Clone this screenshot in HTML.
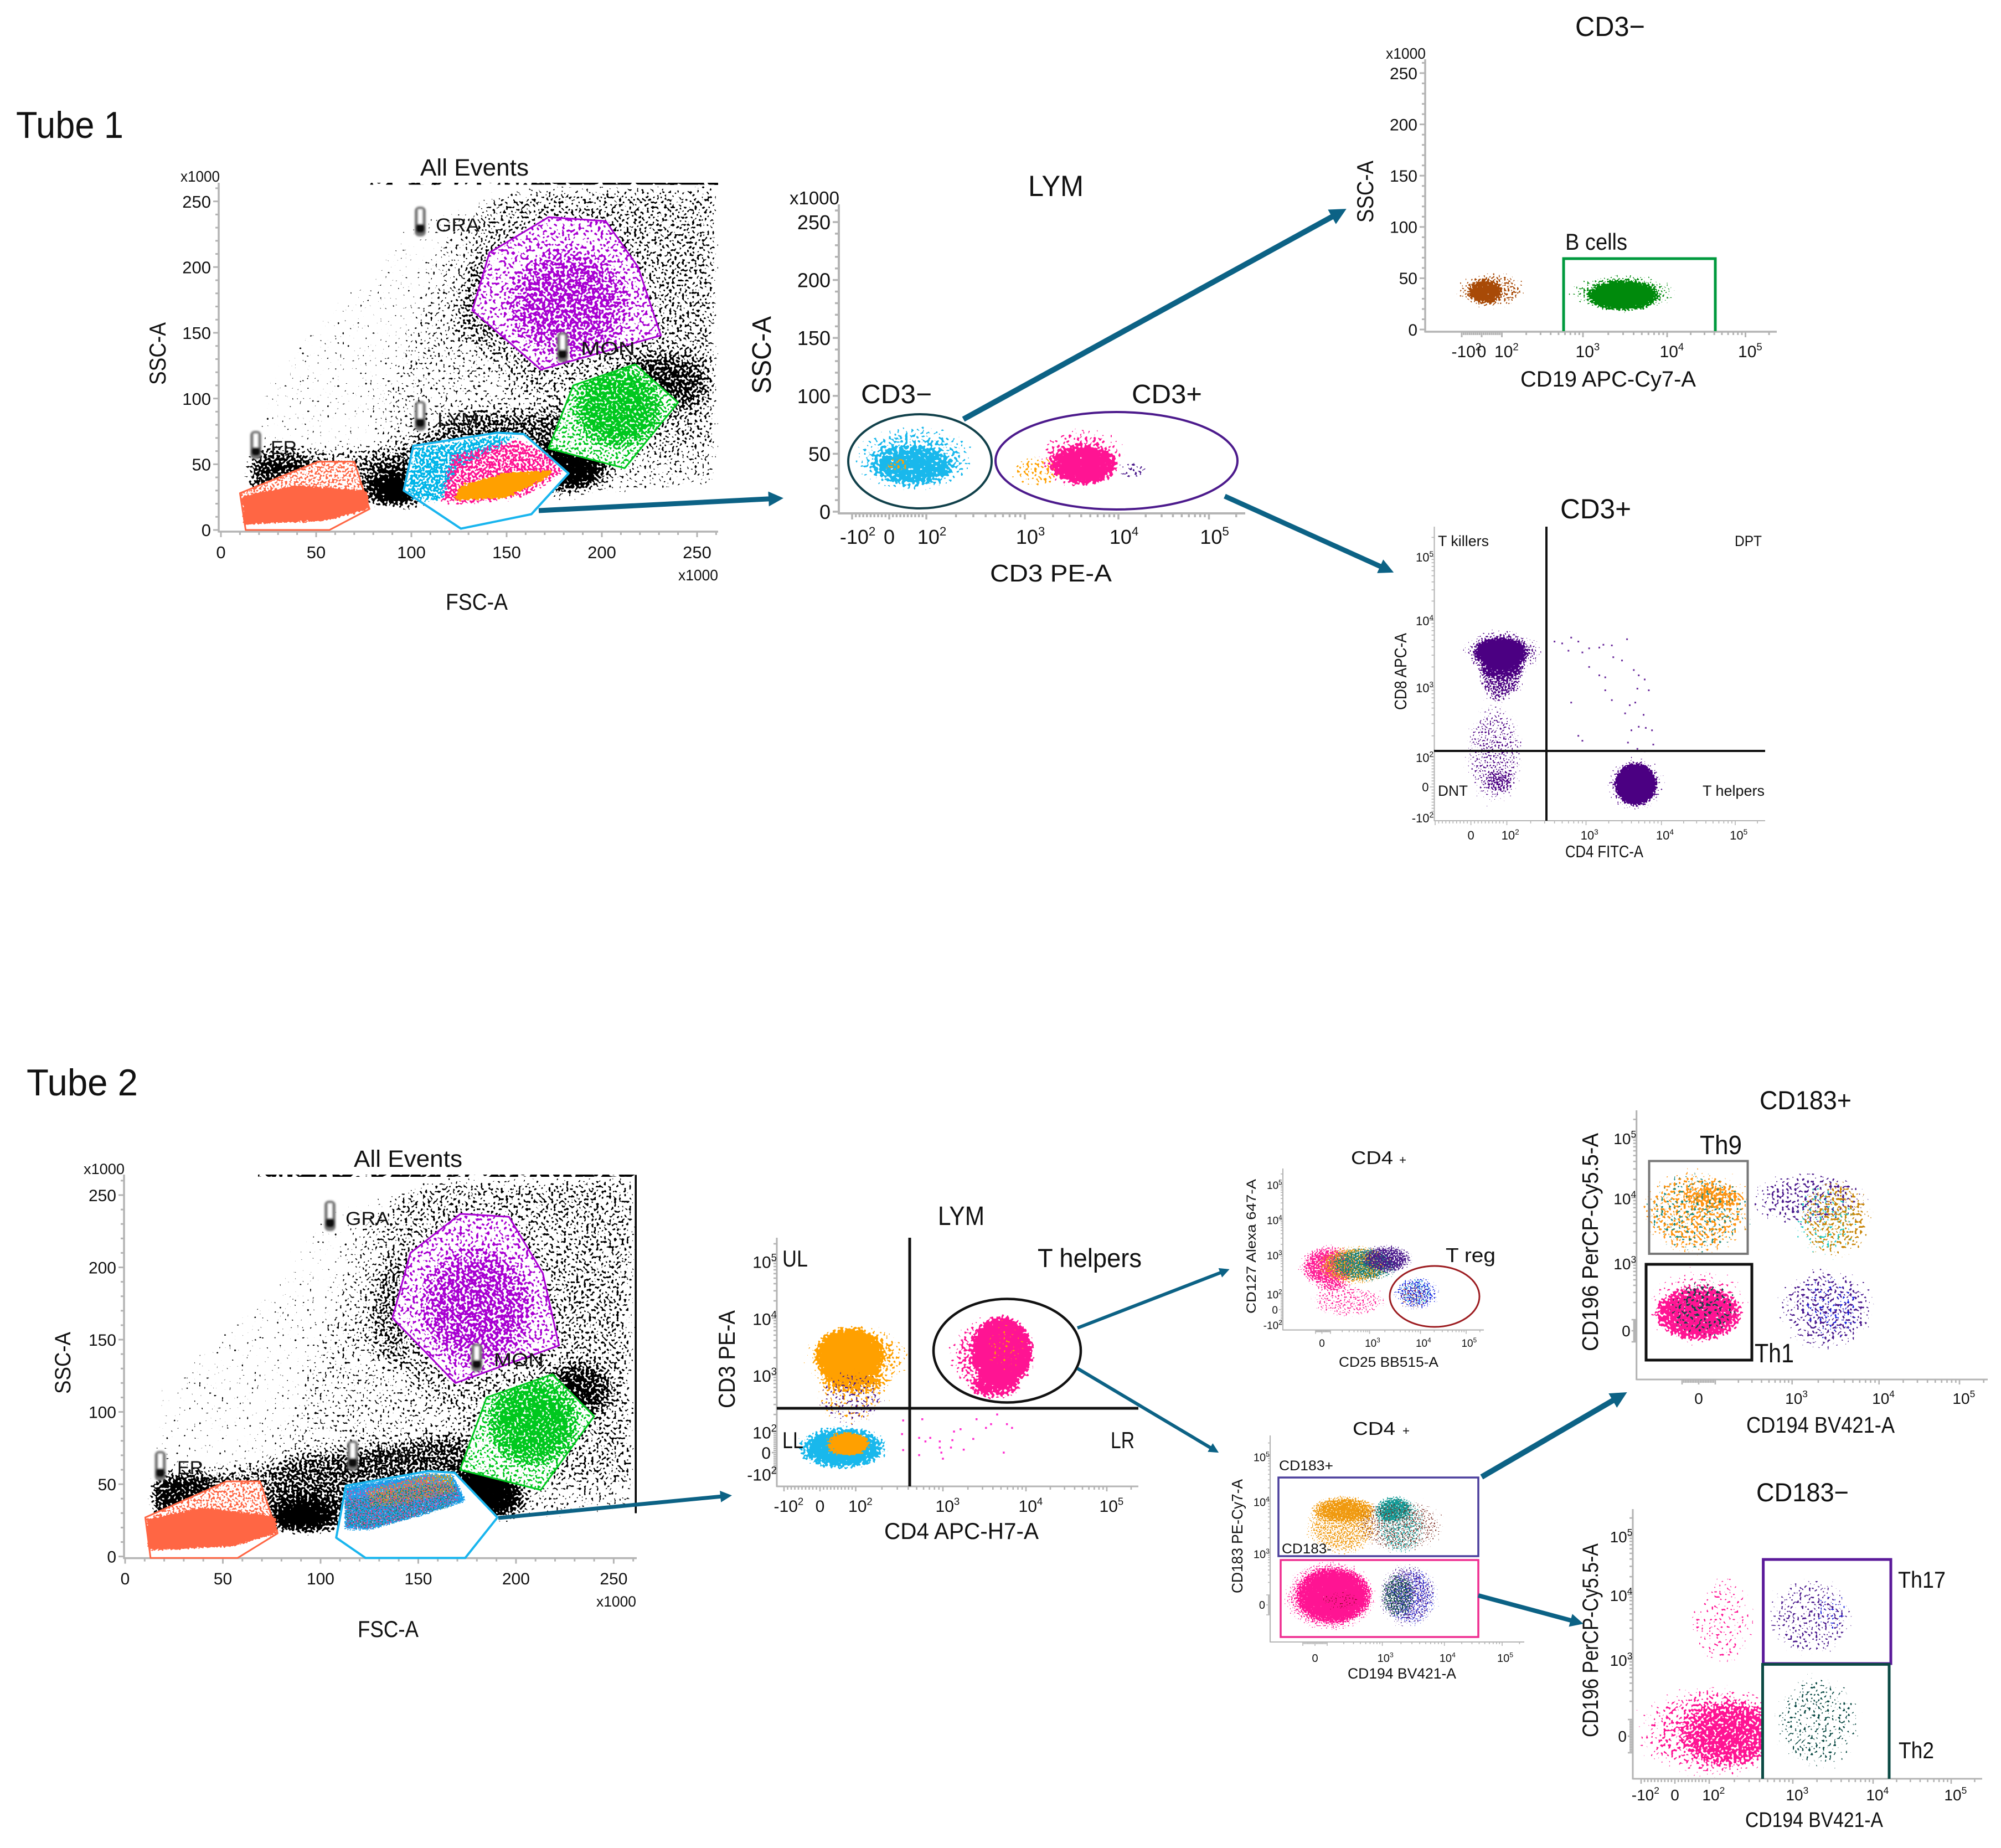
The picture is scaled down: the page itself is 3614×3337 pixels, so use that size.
<!DOCTYPE html>
<html lang="en">
<head>
<meta charset="utf-8">
<title>Flow cytometry gating strategy, Tube 1 and Tube 2</title>
<style>
html,body{margin:0;padding:0;background:#fff;}
svg{display:block;}
text{font-family:"Liberation Sans","DejaVu Sans",sans-serif;fill:#111;}
</style>
</head>
<body>
<svg xmlns="http://www.w3.org/2000/svg" width="3614" height="3337" viewBox="0 0 3614 3337">
<defs>
<radialGradient id="soft"><stop offset="0" stop-color="#000" stop-opacity="1"/><stop offset=".62" stop-color="#000" stop-opacity=".95"/><stop offset=".85" stop-color="#000" stop-opacity=".62"/><stop offset="1" stop-color="#000" stop-opacity=".3"/></radialGradient>
<marker id="head" markerWidth="3" markerHeight="3" refX="2" refY="1.5" orient="auto" markerUnits="strokeWidth"><path d="M0,0 L3,1.5 L0,3 Z" fill="#0c6285"/></marker>
<filter id="iconBlur" x="-40%" y="-40%" width="180%" height="180%"><feGaussianBlur stdDeviation="1.6"/></filter>
</defs>

<g id="marks"></g>

<!-- Tube headings -->
<text x="29" y="249" font-size="68" textLength="194" lengthAdjust="spacingAndGlyphs">Tube 1</text>
<text x="48" y="1978" font-size="68" textLength="201" lengthAdjust="spacingAndGlyphs">Tube 2</text>

<!-- Tube 1, all events -->
<text x="759" y="317" font-size="43" textLength="196" lengthAdjust="spacingAndGlyphs">All Events</text>
<text x="326" y="328" font-size="28" textLength="71" lengthAdjust="spacingAndGlyphs">x1000</text>
<text x="1225" y="1048" font-size="28" textLength="72" lengthAdjust="spacingAndGlyphs">x1000</text>
<text x="805" y="1101" font-size="42" textLength="112" lengthAdjust="spacingAndGlyphs">FSC-A</text>
<text x="299" y="695" font-size="42" textLength="113" lengthAdjust="spacingAndGlyphs" transform="rotate(-90 299 695)">SSC-A</text>
<text x="787" y="418" font-size="34" textLength="79" lengthAdjust="spacingAndGlyphs">GRA</text>
<text x="790" y="769" font-size="34" textLength="74" lengthAdjust="spacingAndGlyphs">LYM</text>
<text x="489" y="820" font-size="34" textLength="47" lengthAdjust="spacingAndGlyphs">ER</text>
<text x="1049" y="641" font-size="34" textLength="98" lengthAdjust="spacingAndGlyphs">MON</text>

<!-- Tube 1, LYM -->
<text x="1857" y="354" font-size="53" textLength="100" lengthAdjust="spacingAndGlyphs">LYM</text>
<text x="1426" y="369" font-size="33" textLength="90" lengthAdjust="spacingAndGlyphs">x1000</text>
<text x="1392" y="711" font-size="48" textLength="140" lengthAdjust="spacingAndGlyphs" transform="rotate(-90 1392 711)">SSC-A</text>
<text x="1788" y="1050" font-size="44" textLength="220" lengthAdjust="spacingAndGlyphs">CD3 PE-A</text>
<text x="1555" y="728" font-size="48" textLength="128" lengthAdjust="spacingAndGlyphs">CD3−</text>
<text x="2044" y="728" font-size="48" textLength="127" lengthAdjust="spacingAndGlyphs">CD3+</text>
<ellipse cx="1661.5" cy="833" rx="129.5" ry="85" fill="none" stroke="#10404a" stroke-width="4"/>
<ellipse cx="2016.5" cy="832" rx="218.5" ry="88" fill="none" stroke="#4c1a8c" stroke-width="4"/>

<!-- Tube 1, CD3 negative -->
<text x="2845" y="65" font-size="50" textLength="126" lengthAdjust="spacingAndGlyphs">CD3−</text>
<text x="2503" y="106" font-size="28" textLength="72" lengthAdjust="spacingAndGlyphs">x1000</text>
<text x="2480" y="402" font-size="42" textLength="112" lengthAdjust="spacingAndGlyphs" transform="rotate(-90 2480 402)">SSC-A</text>
<text x="2746" y="698" font-size="40" textLength="317" lengthAdjust="spacingAndGlyphs">CD19 APC-Cy7-A</text>
<text x="2827" y="451" font-size="42" textLength="112" lengthAdjust="spacingAndGlyphs">B cells</text>
<path d="M2824,598 V467 H3098 V598" fill="none" stroke="#009a3e" stroke-width="5"/>

<!-- Tube 1, CD3 positive -->
<text x="2818" y="936" font-size="50" textLength="128" lengthAdjust="spacingAndGlyphs">CD3+</text>
<text x="2827" y="1548" font-size="31" textLength="141" lengthAdjust="spacingAndGlyphs">CD4 FITC-A</text>
<text x="2540" y="1282" font-size="31" textLength="139" lengthAdjust="spacingAndGlyphs" transform="rotate(-90 2540 1282)">CD8 APC-A</text>
<text x="2597" y="986" font-size="27" textLength="92" lengthAdjust="spacingAndGlyphs">T killers</text>
<text x="3133" y="986" font-size="27" textLength="49" lengthAdjust="spacingAndGlyphs">DPT</text>
<text x="2597" y="1437" font-size="27" textLength="54" lengthAdjust="spacingAndGlyphs">DNT</text>
<text x="3075" y="1437" font-size="27" textLength="112" lengthAdjust="spacingAndGlyphs">T helpers</text>
<line x1="2793" y1="951" x2="2793" y2="1482" stroke="#111" stroke-width="4"/>
<line x1="2590" y1="1356" x2="3188" y2="1356" stroke="#111" stroke-width="4"/>

<!-- Tube 2, all events -->
<text x="639" y="2107" font-size="43" textLength="196" lengthAdjust="spacingAndGlyphs">All Events</text>
<text x="151" y="2120" font-size="27" textLength="74" lengthAdjust="spacingAndGlyphs">x1000</text>
<text x="1077" y="2901" font-size="27" textLength="72" lengthAdjust="spacingAndGlyphs">x1000</text>
<text x="646" y="2956" font-size="42" textLength="110" lengthAdjust="spacingAndGlyphs">FSC-A</text>
<text x="127" y="2517" font-size="40" textLength="112" lengthAdjust="spacingAndGlyphs" transform="rotate(-90 127 2517)">SSC-A</text>
<text x="624" y="2212" font-size="34" textLength="79" lengthAdjust="spacingAndGlyphs">GRA</text>
<text x="681" y="2644" font-size="34" textLength="61" lengthAdjust="spacingAndGlyphs">LYM</text>
<text x="320" y="2662" font-size="34" textLength="47" lengthAdjust="spacingAndGlyphs">ER</text>
<text x="892" y="2467" font-size="34" textLength="90" lengthAdjust="spacingAndGlyphs">MON</text>

<!-- Tube 2, LYM -->
<text x="1694" y="2212" font-size="48" textLength="84" lengthAdjust="spacingAndGlyphs">LYM</text>
<text x="1874" y="2288" font-size="47" textLength="188" lengthAdjust="spacingAndGlyphs">T helpers</text>
<text x="1413" y="2287" font-size="42" textLength="46" lengthAdjust="spacingAndGlyphs">UL</text>
<text x="1413" y="2615" font-size="42" textLength="38" lengthAdjust="spacingAndGlyphs">LL</text>
<text x="2006" y="2615" font-size="42" textLength="43" lengthAdjust="spacingAndGlyphs">LR</text>
<text x="1597" y="2779" font-size="42" textLength="279" lengthAdjust="spacingAndGlyphs">CD4 APC-H7-A</text>
<text x="1327" y="2543" font-size="42" textLength="177" lengthAdjust="spacingAndGlyphs" transform="rotate(-90 1327 2543)">CD3 PE-A</text>
<line x1="1643" y1="2235" x2="1643" y2="2684" stroke="#111" stroke-width="5"/>
<line x1="1403" y1="2543" x2="2056" y2="2543" stroke="#111" stroke-width="5"/>
<ellipse cx="1819" cy="2439" rx="133" ry="93.5" fill="none" stroke="#111" stroke-width="4.5"/>

<!-- Tube 2, CD25 panel -->
<text x="2440" y="2102" font-size="33" textLength="76" lengthAdjust="spacingAndGlyphs">CD4</text>
<text x="2527" y="2102" font-size="22" textLength="13" lengthAdjust="spacingAndGlyphs">+</text>
<text x="2611" y="2279" font-size="36" textLength="90" lengthAdjust="spacingAndGlyphs">T reg</text>
<text x="2418" y="2468" font-size="25" textLength="180" lengthAdjust="spacingAndGlyphs">CD25 BB515-A</text>
<text x="2268" y="2372" font-size="24" textLength="243" lengthAdjust="spacingAndGlyphs" transform="rotate(-90 2268 2372)">CD127 Alexa 647-A</text>
<ellipse cx="2591" cy="2341" rx="81" ry="55" fill="none" stroke="#9c1c20" stroke-width="3"/>

<!-- Tube 2, CD183 panel -->
<text x="2443" y="2591" font-size="33" textLength="77" lengthAdjust="spacingAndGlyphs">CD4</text>
<text x="2533" y="2591" font-size="22" textLength="13" lengthAdjust="spacingAndGlyphs">+</text>
<text x="2310" y="2655" font-size="25" textLength="98" lengthAdjust="spacingAndGlyphs">CD183+</text>
<text x="2315" y="2805" font-size="25" textLength="90" lengthAdjust="spacingAndGlyphs">CD183-</text>
<text x="2434" y="3031" font-size="27" textLength="196" lengthAdjust="spacingAndGlyphs">CD194 BV421-A</text>
<text x="2244" y="2877" font-size="28" textLength="206" lengthAdjust="spacingAndGlyphs" transform="rotate(-90 2244 2877)">CD183 PE-Cy7-A</text>
<rect x="2309" y="2668" width="361" height="142" fill="none" stroke="#4a3e9c" stroke-width="3.5"/>
<rect x="2313" y="2817" width="357" height="139" fill="none" stroke="#ef2c90" stroke-width="3.5"/>

<!-- Tube 2, CD183 positive -->
<text x="3178" y="2003" font-size="47" textLength="166" lengthAdjust="spacingAndGlyphs">CD183+</text>
<text x="3070" y="2084" font-size="48" textLength="76" lengthAdjust="spacingAndGlyphs">Th9</text>
<text x="3169" y="2460" font-size="48" textLength="71" lengthAdjust="spacingAndGlyphs">Th1</text>
<text x="3154" y="2587" font-size="41" textLength="268" lengthAdjust="spacingAndGlyphs">CD194 BV421-A</text>
<text x="2886" y="2440" font-size="41" textLength="394" lengthAdjust="spacingAndGlyphs" transform="rotate(-90 2886 2440)">CD196 PerCP-Cy5.5-A</text>
<rect x="2978.5" y="2096.5" width="178" height="167.5" fill="none" stroke="#777" stroke-width="4"/>
<rect x="2973" y="2283" width="191" height="173" fill="none" stroke="#111" stroke-width="5"/>

<!-- Tube 2, CD183 negative -->
<text x="3172" y="2711" font-size="47" textLength="167" lengthAdjust="spacingAndGlyphs">CD183−</text>
<text x="3428" y="2867" font-size="42" textLength="86" lengthAdjust="spacingAndGlyphs">Th17</text>
<text x="3429" y="3175" font-size="42" textLength="64" lengthAdjust="spacingAndGlyphs">Th2</text>
<text x="3152" y="3299" font-size="38" textLength="249" lengthAdjust="spacingAndGlyphs">CD194 BV421-A</text>
<text x="2886" y="3137" font-size="40" textLength="350" lengthAdjust="spacingAndGlyphs" transform="rotate(-90 2886 3137)">CD196 PerCP-Cy5.5-A</text>
<rect x="3184.6" y="2816" width="230.4" height="188" fill="none" stroke="#5b1a9a" stroke-width="5"/>
<path d="M3183.5,3212 V3005.4 H3412 V3212" fill="none" stroke="#0b4a44" stroke-width="5"/>

<!-- Gating flow arrows -->
<g stroke="#0c6285" fill="none">
<line x1="973" y1="922" x2="1406" y2="900" stroke-width="9" marker-end="url(#head)"/>
<line x1="1740" y1="757" x2="2423" y2="382" stroke-width="10" marker-end="url(#head)"/>
<line x1="2212" y1="896" x2="2509" y2="1030" stroke-width="9" marker-end="url(#head)"/>
<line x1="900" y1="2741" x2="1315" y2="2701" stroke-width="7" marker-end="url(#head)"/>
<line x1="1946" y1="2398" x2="2215" y2="2294" stroke-width="6" marker-end="url(#head)"/>
<line x1="1946" y1="2471" x2="2196" y2="2620" stroke-width="6" marker-end="url(#head)"/>
<line x1="2676" y1="2667" x2="2930" y2="2519" stroke-width="10" marker-end="url(#head)"/>
<line x1="2670" y1="2881" x2="2852" y2="2930" stroke-width="8" marker-end="url(#head)"/>
</g>
</svg>

<script>
/* Event clouds: extents and densities below are estimates.
   The speckle inside each cloud is an SVG noise texture, not individually read events.
   Only the dptArc and lrEvents arrays hold individually read points. */

/* ---------- tick data ---------- */
const linearTickVals = [0, 50, 100, 150, 200, 250];
const linearMinorVals = [10,20,30,40,60,70,80,90,110,120,130,140,160,170,180,190,210,220,230,240,260];
const decadeVals = [-100, 0, 100, 1000, 10000, 100000];
const decadeBase = ['-10', '0', '10', '10', '10', '10'];
const decadeExp = ['2', '', '2', '3', '4', '5'];
const logMinorVals = [-90,-80,-70,-60,-50,-40,-30,-20,-10,10,20,30,40,50,60,70,80,90,200,300,400,500,600,700,800,900,2000,3000,4000,5000,6000,7000,8000,9000,20000,30000,40000,50000,60000,70000,80000,90000,200000];

/* ---------- estimated population extents, in axis units: [xLo, xHi, yLo, yHi, density, tilt°] ---------- */
const t1PurpleCore = [150,215,130,215,.22];
const t1GreenCore = [185,232,62,125,.35];
const t1DenseBottomLeft = [78,106,15,46,.55];
const t1DenseUnderLym = [160,205,30,66,.5];
const t1ErShoulder = [10,52,25,62,.28];
const t1DenseRightOfGreen = [205,258,88,135,.3];
const t1LeftOfPurple = [125,150,140,210,.12];
const t2PurpleCore = [150,210,130,215,.22];
const t2GreenCore = [185,232,62,125,.35];
const t2DenseBottom = [75,108,15,40,.6];
const t2DenseUnderLym = [165,205,25,66,.5];
const t2ErShoulder = [10,50,25,60,.3];
const t2DenseRightOfGreen = [215,250,95,135,.35];
const t2LeftOfPurple = [125,150,130,210,.12];

const lymBlueHalo = [-120,380,14,78,.49];
const lymBlueCore = [-50,190,22,58,.45];
const lymOrangeNeg = [-20,65,33,48,.46];
const lymPinkHalo = [1200,14000,18,76,.47];
const lymPinkCore = [1800,10000,22,58,.62];
const lymOrangeLeft = [650,3200,20,50,.44];
const lymIndigoRight = [9000,22000,27,45,.44];

const cd3NegBrownHalo = [-150,230,18,58,.48];
const cd3NegBrownCore = [-67,100,25,49,.6];
const cd3NegGreenHalo = [550,16000,14,57,.47];
const cd3NegGreenCore = [1130,8000,18,48,.85];

const cd3PosKillerHalo = [-40,330,1400,8000,.5];
const cd3PosKillerCore = [10,180,2000,5400,.95];
const cd3PosKillerLobe = [13,178,600,3000,.55];
const cd3PosStem = [-30,190,-90,800,.42];
const cd3PosDnt = [35,128,-22,59,.2];
const cd3PosHelperHalo = [1700,12000,-90,110,.5];
const cd3PosHelperCore = [2430,8630,-60,79,1];

const lymCd4OrangeHalo = [-60,500,450,9000,.5];
const lymCd4OrangeCore = [-15,213,708,7000,.85];
const lymCd4OrangeStem = [-32,270,105,1590,.4];
const lymCd4PurpleStem = [-32,270,105,1590,.4];
const lymCd4PinkHalo = [1000,15000,350,13000,.5];
const lymCd4PinkCore = [2200,12500,600,11400,.9];
const lymCd4PinkLow = [2000,9000,350,1100,.47];
const lymCd4PinkOrange = [2750,11900,870,11400,.35];
const lymCd4BlueLow = [-72,254,-90,134,.8];
const lymCd4OrangeLow = [11,155,-24,105,.9];

const tregPink = [-400,600,120,2200,.62];
const tregOrange = [-150,3500,150,2200,.58];
const tregTeal = [0,5000,180,2000,.56];
const tregIndigo = [500,8000,300,2200,.6];
const tregLowPink = [-300,3000,-70,200,.44];
const tregBlue = [2500,32000,-20,330,.48];
const tregCyan = [3000,25000,0,300,.43];
const tregRed = [3000,20000,-30,260,.38];

const cd183Orange = [-120,1100,700,16000,.5];
const cd183OrangeCore = [-40,900,4000,13000,.42];
const cd183Teal = [600,6000,700,16000,.47];
const cd183TealCore = [600,3000,4000,14000,.42];
const cd183Scatter = [200,15000,800,15000,.42];
const cd183Pink = [-280,900,-300,800,.6];
const cd183PinkCore = [-150,650,-180,450,.55];
const cd183Indigo = [700,9000,-280,800,.47];
const cd183DarkTeal = [800,4000,-180,450,.5];
const cd183Blue = [800,10000,-280,700,.42];
const cd183DarkRed = [0,500,-80,140,.37];

const posOrangeTh9 = [-400,400,1000,40000,.47];
const posOrangeCore = [-100,262,6600,16800,.2];
const posTealTh9 = [-400,400,1000,40000,.39];
const posIndigoTop = [200,10000,3000,32000,.43];
const posBrownRight = [1000,10000,900,26000,.45];
const posCyanRight = [800,7000,900,24000,.37];
const posIndigoLow = [500,12000,-250,1100,.43];
const posBlueLow = [1000,8000,-150,850,.37];
const posPinkCore = [-270,233,-100,390,.55];
const posPinkHalo = [-380,350,-200,1100,.4];
const posTealTh1 = [-230,233,-100,600,.44];

const negPinkHalo = [-150,1400,-300,500,.46];
const negPinkCore = [11,700,-187,209,.3];
const negPinkUpper = [20,440,500,30000,.38];
const negIndigo = [400,7000,800,26000,.41];
const negBlue = [1500,5500,2200,13000,.35];
const negTeal = [450,9000,-260,850,.4];

/* ---------- gate outlines and density regions: [density, x1, y1, x2, y2, ...] in FSC/SSC units ---------- */
const t1GatePurple = [.43, 172,238, 202,235, 219,200, 231,148, 168,122, 132,167, 141,211];
const t1GateGreen = [.45, 217.5,126, 240,97, 212,47, 172,62, 185,110];
const t1GateOrange = [.5, 10,28, 51,52, 70,52, 78,16, 57,0, 13,0];
const t1ErSparse = [.47, 10,28, 51,52, 70,52, 78,16, 55,7, 12,4];
const t1GateBlue = [0, 101,64, 145,74, 159,73, 182.5,43, 163,12, 126,1, 96,30];
const t1OrangeSolid = [1, 12,4, 11,26, 40,34, 77,30, 78,16, 55,7];
const t1LymBlue = [.56, 96,30, 101,64, 145,74, 160,72, 125,45, 116,20, 100,22];
const t1LymPink = [.54, 114,20, 120,58, 155,70, 170,62, 182,44, 160,24, 130,18];
const t1LymOrange = [.85, 122,22, 150,24, 172,40, 176,46, 150,44, 125,34];
const t1SparseWedge = [.29, 15,25, 17,110, 40,150, 70,190, 100,240, 160,264, 262,264, 262,30, 100,15];
const t1MiddleWedge = [.1, 70,25, 95,130, 120,230, 160,264, 262,264, 262,30, 110,20];
const t1RightWedge = [.1, 120,150, 140,255, 262,264, 262,60, 200,60];
const t1LowBand = [.27, 12,20, 12,62, 40,60, 90,60, 130,90, 180,90, 200,50, 190,30, 100,18, 60,15];
const t1TopStrip = [.47, 75,262.6, 170,262.6, 170,264.2, 75,264.2];
const t1TopStripDense = [.62, 170,262.6, 262,262.6, 262,264.2, 170,264.2];

const t2GatePurple = [.43, 171.6,237, 196.4,235, 213.7,196, 222,146, 169,120, 136.8,165, 146,210];
const t2GateGreen = [.45, 218.7,126, 240,97, 212.7,46, 171.4,60, 185,110];
const t2GateOrange = [.5, 10.3,27, 52,52, 69,52, 78,16, 57.6,-1, 13,-1];
const t2ErSparse = [.47, 10.3,27, 52,52, 69,52, 78,16, 55,7, 12,4];
const t2GateBlue = [0, 113,49, 155,59, 168.6,58, 190.5,27, 174,-1, 123,-1, 108,13];
const t2OrangeSolid = [1, 12,4, 11,26, 40,34, 77,28, 78,16, 55,7];
const t2LymBlue = [.7, 112,49, 155,58, 168,57, 175,38, 150,27, 125,18, 112,18];
const t2LymOrange = [.5, 122,46, 155,58, 168,57, 170,44, 145,36, 125,33];
const t2LymTeal = [.46, 112,40, 155,52, 170,50, 172,36, 150,27, 125,18, 112,20];
const t2LymPink = [.42, 112,46, 155,58, 172,48, 172,38, 150,27, 125,18, 112,18];
const t2SparseWedge = [.29, 12,20, 13,115, 40,150, 75,190, 95,240, 160,264, 262,264, 262,30, 100,15];
const t2MiddleWedge = [.1, 70,25, 95,130, 120,230, 160,264, 262,264, 262,30, 110,20];
const t2RightWedge = [.1, 120,150, 140,255, 262,264, 262,50, 200,55];
const t2LowBand = [.3, 12,20, 12,55, 50,60, 95,70, 170,85, 195,60, 205,30, 110,15, 60,15];
const t2TopStrip = [.55, 68,262.6, 262,262.6, 262,264.2, 68,264.2];
const t2RightStrip = [.8, 260.8,30, 261.9,30, 261.9,264, 260.8,264];

/* ---------- individually read events, axis units ---------- */
const dptArcX = [400,500,650,800,600,900,1100,1500,1700,2200,3500,2300,3000,1100,1500,1800,1800,2200,4300,5000,6000,4800,6800,4500,3800,3300,5800,4000,5000,6200,7500,3600,4800,7800,6000,800,900,650];
const dptArcY = [4800,4500,5500,4800,3500,3300,3800,3900,4300,4200,5200,2800,2500,2000,1500,1400,900,650,1800,1500,1300,950,900,600,550,420,400,240,270,260,240,160,130,150,120,200,170,600];
const lrEventsX = [580,716,534,630,920,920,960,1000,1360,1300,1630,2320,2540,3300,3800,4500,5900,6800,5400,1780,1250,534,350,340,350];
const lrEventsY = [165,70,70,53,53,24,0,-29,100,59,110,65,165,116,135,200,135,116,0,14,24,-12,12,88,157];

/* ---------- helpers ---------- */
const NS = 'http://www.w3.org/2000/svg';
const marks = document.getElementById('marks');
const defs = document.querySelector('defs');
function add(parent, tag, attrs, name) {
  const el = document.createElementNS(NS, tag);
  for (const k in attrs) el.setAttribute(k, attrs[k]);
  
  
  parent.appendChild(el);
  return el;
}
function lin(v0, p0, v1, p1) { return v => p0 + (v - v0) * (p1 - p0) / (v1 - v0); }
function biex(pix) {
  return v => {
    let i = 0;
    while (i < decadeVals.length - 2 && v > decadeVals[i + 1]) i++;
    const a = decadeVals[i], b = decadeVals[i + 1];
    const t = (a >= 100 && v > 0) ? (Math.log10(v) - Math.log10(a)) / (Math.log10(b) - Math.log10(a)) : (v - a) / (b - a);
    return pix[i] + t * (pix[i + 1] - pix[i]);
  };
}
let filterCount = 0;
function stipple(p, color, seed, freq, blur) {
  const id = 'st' + (filterCount++);
  const f = document.createElementNS(NS, 'filter');
  f.setAttribute('id', id);
  f.setAttribute('filterUnits', 'userSpaceOnUse');
  f.setAttribute('x', p.left); f.setAttribute('y', p.top);
  f.setAttribute('width', p.right - p.left); f.setAttribute('height', p.bottom - p.top);
  f.setAttribute('color-interpolation-filters', 'sRGB');
  f.innerHTML = '<feGaussianBlur in="SourceAlpha" stdDeviation="' + blur + '" result="s"/>' +
    '<feTurbulence type="fractalNoise" baseFrequency="' + freq + '" numOctaves="1" seed="' + seed + '" result="t"/>' +
    '<feColorMatrix in="t" type="matrix" values="0 0 0 0 0 0 0 0 0 0 0 0 0 0 0 0 0 0 1 0" result="na"/>' +
    '<feComposite in="s" in2="na" operator="arithmetic" k1="0" k2="1" k3="1" k4="-1" result="d"/>' +
    '<feComponentTransfer in="d" result="th"><feFuncA type="linear" slope="30"/></feComponentTransfer>' +
    '<feFlood flood-color="' + color + '" result="fl"/>' +
    '<feComposite in="fl" in2="th" operator="in"/>';
  defs.appendChild(f);
  return id;
}
function polyPoints(p, poly) {
  const pts = [];
  for (let i = 1; i < poly.length; i += 2) pts.push(p.x(poly[i]).toFixed(1) + ',' + p.y(poly[i + 1]).toFixed(1));
  return pts.join(' ');
}
function layer(p, name, color, seed, freq, blur, clouds, polys, clip) {
  const g = add(marks, 'g', { filter: 'url(#' + stipple(p, color, seed, freq, blur) + ')' }, name);
  if (clip) {
    const cid = 'cl' + filterCount;
    const c = document.createElementNS(NS, 'clipPath');
    c.setAttribute('id', cid);
    const r = document.createElementNS(NS, 'rect');
    r.setAttribute('x', p.x(clip[0])); r.setAttribute('y', p.y(clip[3]));
    r.setAttribute('width', p.x(clip[1]) - p.x(clip[0])); r.setAttribute('height', p.y(clip[2]) - p.y(clip[3]));
    c.appendChild(r);
    defs.appendChild(c);
    const outer = add(marks, 'g', { 'clip-path': 'url(#' + cid + ')' }, name + '-clip');
    outer.appendChild(g);
  }
  (clouds || []).forEach(c => {
    const x0 = p.x(c[0]), x1 = p.x(c[1]), y0 = p.y(c[2]), y1 = p.y(c[3]);
    const cx = (x0 + x1) / 2, cy = (y0 + y1) / 2;
    const attrs = { cx: cx, cy: cy, rx: Math.abs(x1 - x0) / 2, ry: Math.abs(y1 - y0) / 2, fill: 'url(#soft)', 'fill-opacity': c[4] };
    if (c[5]) attrs.transform = 'rotate(' + c[5] + ' ' + cx + ' ' + cy + ')';
    add(g, 'ellipse', attrs, name + '-cloud');
  });
  (polys || []).forEach(q => {
    add(g, 'polygon', { points: polyPoints(p, q), fill: '#000', 'fill-opacity': q[0] }, name + '-region');
  });
}
function gate(p, poly, color, width, name) {
  add(marks, 'polygon', { points: polyPoints(p, poly), fill: 'none', stroke: color, 'stroke-width': width, 'stroke-linejoin': 'round' }, name);
}
function whiteGate(p, poly, name) {
  add(marks, 'polygon', { points: polyPoints(p, poly), fill: '#fff' }, name);
}
function events(p, xs, ys, color, size, name) {
  xs.forEach((v, i) => {
    add(marks, 'rect', { x: p.x(v) - size / 2, y: p.y(ys[i]) - size / 2, width: size, height: size, fill: color }, name);
  });
}
function icon(x, y0, y1, name) {
  const g = add(marks, 'g', { filter: 'url(#iconBlur)' }, name);
  const w = 20, h = y1 - y0;
  add(g, 'rect', { x: x - w / 2, y: y0, width: w, height: h, rx: 8, fill: '#777' }, name + '-body');
  add(g, 'rect', { x: x - 4, y: y0 + 5, width: 8, height: h * .5, fill: '#fff' }, name + '-window');
  add(g, 'rect', { x: x - w / 2 + 2, y: y0 + h * .58, width: w - 4, height: h * .3, rx: 6, fill: '#111' }, name + '-base');
}
function tickText(x, y, anchor, base, exp, fs, name) {
  const t = add(marks, 'text', { x: x, y: y, 'text-anchor': anchor, 'font-size': fs }, name);
  t.appendChild(document.createTextNode(base));
  if (exp) {
    const s = document.createElementNS(NS, 'tspan');
    s.setAttribute('dy', -0.42 * fs);
    s.setAttribute('font-size', 0.62 * fs);
    s.textContent = exp;
    t.appendChild(s);
  }
}
function frame(p) {
  const c = '#b4b4b4', n = p.name;
  const w = p.tickW;
  const g = add(marks, 'g', { stroke: c, 'stroke-width': w, fill: 'none' }, n + '-axes');
  add(g, 'line', { x1: p.axisX, y1: p.top, x2: p.axisX, y2: p.axisY + w / 2, 'stroke-width': w + .5 }, n + '-y-axis-line');
  add(g, 'line', { x1: p.axisX, y1: p.axisY, x2: p.right, y2: p.axisY, 'stroke-width': w + .5 }, n + '-x-axis-line');
  const minor = v => {
    const px = p.x(v);
    if (px > p.axisX && px <= p.right) add(g, 'line', { x1: px, y1: p.axisY, x2: px, y2: p.axisY + p.tickMinor }, n + '-x-minor-tick');
  };
  const minorY = v => {
    const py = p.y(v);
    if (py < p.axisY && py >= p.top) add(g, 'line', { x1: p.axisX, y1: py, x2: p.axisX - p.tickMinor, y2: py }, n + '-y-minor-tick');
  };
  (p.xLog ? logMinorVals : linearMinorVals).forEach(minor);
  (p.yLog ? logMinorVals : linearMinorVals).forEach(minorY);
  if (p.xLog) {
    decadeVals.forEach((v, i) => {
      add(g, 'line', { x1: p.x(v), y1: p.axisY, x2: p.x(v), y2: p.axisY + p.tickMajor }, n + '-x-major-tick');
      if (p.xShow.indexOf(i) < 0) return;
      const shift = decadeExp[i] ? p.fs * .28 : 0;
      tickText(p.x(v) + shift, p.xBase, 'middle', decadeBase[i], decadeExp[i], p.fs, n + '-x-tick-label');
    });
  } else {
    linearTickVals.forEach(v => {
      add(g, 'line', { x1: p.x(v), y1: p.axisY, x2: p.x(v), y2: p.axisY + p.tickMajor }, n + '-x-major-tick');
      tickText(p.x(v), p.xBase, 'middle', String(v), '', p.fs, n + '-x-tick-label');
    });
  }
  if (p.yLog) {
    decadeVals.forEach((v, i) => {
      add(g, 'line', { x1: p.axisX, y1: p.y(v), x2: p.axisX - p.tickMajor, y2: p.y(v) }, n + '-y-major-tick');
      if (p.yShow.indexOf(i) < 0) return;
      const e = decadeExp[i] ? p.fs * .42 : p.fs * .36;
      tickText(p.axisX - p.tickMajor - (decadeExp[i] ? -p.fs * .3 : 2), p.y(v) + e, 'end', decadeBase[i], decadeExp[i], p.fs, n + '-y-tick-label');
    });
  } else {
    linearTickVals.forEach(v => {
      add(g, 'line', { x1: p.axisX, y1: p.y(v), x2: p.axisX - p.tickMajor, y2: p.y(v) }, n + '-y-major-tick');
      tickText(p.axisX - p.tickMajor - 4, p.y(v) + p.fs * .36, 'end', String(v), '', p.fs, n + '-y-tick-label');
    });
  }
}

/* ---------- panels: pixel layout and axis scales ---------- */
const all = [0, 1, 2, 3, 4, 5];
const pA = { name:'tube-1-all-events', left:397, right:1297, top:330, bottom:958, axisX:395, axisY:960, x:lin(0,399,250,1259), y:lin(0,957,250,363.6), fs:31, xBase:1008, tickW:3, tickMajor:10, tickMinor:6 };
const pB = { name:'tube-1-lym', left:1517, right:2249, top:369, bottom:925, axisX:1515, axisY:927, xLog:true, xShow:all, x:biex([1539,1606,1673,1851,2020,2183.5]), y:lin(0,924,250,401), fs:36, xBase:982, tickW:3.5, tickMajor:11, tickMinor:7 };
const pC = { name:'tube-1-cd3-negative', left:2576, right:3209, top:107, bottom:597, axisX:2574, axisY:599, xLog:true, xShow:all, x:biex([2640,2676,2712.5,2859,3011,3152.5]), y:lin(0,595,250,132), fs:30, xBase:645, tickW:3, tickMajor:10, tickMinor:6 };
const pD = { name:'tube-1-cd3-positive', left:2592, right:3188, top:951, bottom:1480, axisX:2590.5, axisY:1482, xLog:true, yLog:true, xShow:[1,2,3,4,5], yShow:all, x:biex([2592,2656.6,2721.5,2864.5,3000.7,3134]), y:biex([1476,1421,1366.6,1240.7,1120,1005]), fs:22, xBase:1516, tickW:1.6, tickMajor:8, tickMinor:5 };
const pE = { name:'tube-2-all-events', left:226, right:1150, top:2121, bottom:2812, axisX:224, axisY:2813.6, x:lin(0,226,250,1108.4), y:lin(0,2810.6,250,2158), fs:30, xBase:2861, tickW:3, tickMajor:10, tickMinor:6 };
const pF = { name:'tube-2-lym', left:1405, right:2056, top:2235, bottom:2682, axisX:1403, axisY:2684, xLog:true, yLog:true, xShow:all, yShow:all, x:biex([1416,1481,1545.5,1703,1853,1999]), y:biex([2661,2623,2585,2482.6,2380,2277]), fs:30, xBase:2730, tickW:2.6, tickMajor:9, tickMinor:6 };
const pG = { name:'tube-2-t-reg', left:2318, right:2680, top:2110, bottom:2400, axisX:2317, axisY:2401.6, xLog:true, yLog:true, xShow:[1,3,4,5], yShow:all, x:biex([2376,2387.5,2403,2473.6,2565.5,2648]), y:biex([2392,2365,2336.6,2266,2202.6,2139]), fs:19, xBase:2432, tickW:1.6, tickMajor:7, tickMinor:4 };
const pH = { name:'tube-2-cd183', left:2295, right:2753, top:2592, bottom:2963, axisX:2294, axisY:2965, xLog:true, yLog:true, xShow:[1,3,4,5], yShow:[1,3,4,5], x:biex([2353,2375,2397,2496.6,2608.7,2713]), y:biex([2916,2898,2880,2805,2711,2630]), fs:20, xBase:3001, tickW:1.6, tickMajor:7, tickMinor:4 };
const pI = { name:'tube-2-cd183-positive', left:2957, right:3590, top:2005, bottom:2489, axisX:2955.7, axisY:2491, xLog:true, yLog:true, xShow:[1,3,4,5], yShow:[1,3,4,5], x:biex([3038,3068,3098,3236.7,3393.7,3539]), y:biex([2423,2403,2383,2280,2162.5,2054]), fs:28, xBase:2535, tickW:2.6, tickMajor:9, tickMinor:6 };
const pJ = { name:'tube-2-cd183-negative', left:2950, right:3580, top:2725, bottom:3210, axisX:2949, axisY:3212, xLog:true, yLog:true, xShow:all, yShow:[1,3,4,5], x:biex([2964,3025,3087,3238,3383,3524]), y:biex([3165,3135,3105,2996,2879,2773]), fs:28, xBase:3251, tickW:2.6, tickMajor:9, tickMinor:6 };

/* ---------- Tube 1 scatter ---------- */
frame(pA);
layer(pA,'t1-background-events','#000',3,.22,12,[t1DenseBottomLeft,t1DenseUnderLym,t1ErShoulder,t1DenseRightOfGreen,t1LeftOfPurple],[t1SparseWedge,t1MiddleWedge,t1RightWedge,t1LowBand]);
layer(pA,'t1-top-edge-sparse-events','#000',5,.1,0,[],[t1TopStrip]);
layer(pA,'t1-top-edge-dense-events','#000',6,.1,0,[],[t1TopStripDense]);
whiteGate(pA,t1GatePurple,'gra-gate-fill-tube-1');
whiteGate(pA,t1GateGreen,'mon-gate-fill-tube-1');
whiteGate(pA,t1GateOrange,'er-gate-fill-tube-1');
whiteGate(pA,t1GateBlue,'lym-gate-fill-tube-1');
layer(pA,'gra-events-tube-1','#a800d2',11,.2,0,[t1PurpleCore],[t1GatePurple]);
layer(pA,'mon-events-tube-1','#00c81e',12,.24,0,[t1GreenCore],[t1GateGreen]);
layer(pA,'er-sparse-events-tube-1','#ff6644',13,.26,0,[],[t1ErSparse]);
layer(pA,'er-dense-events-tube-1','#ff6644',17,.26,4,[],[t1OrangeSolid]);
layer(pA,'lym-blue-events-tube-1','#00b5e8',14,.24,5,[],[t1LymBlue]);
layer(pA,'lym-pink-events-tube-1','#ff1493',15,.24,5,[],[t1LymPink]);
layer(pA,'lym-orange-events-tube-1','#ffa000',16,.24,4,[],[t1LymOrange]);
gate(pA,t1GatePurple,'#a800d2',3,'gra-gate-tube-1');
gate(pA,t1GateGreen,'#00c81e',3,'mon-gate-tube-1');
gate(pA,t1GateOrange,'#ff6644',3,'er-gate-tube-1');
gate(pA,t1GateBlue,'#19b5ee',4,'lym-gate-tube-1');
icon(759,373,427,'gra-marker-tube-1');
icon(759,724,778,'lym-marker-tube-1');
icon(462,778,829,'er-marker-tube-1');
icon(1016,600,654,'mon-marker-tube-1');

/* ---------- Tube 1 LYM ---------- */
frame(pB);
layer(pB,'cd3-negative-events','#19b8ec',21,.2,3,[lymBlueHalo,lymBlueCore]);
layer(pB,'cd3-negative-orange-events','#ffa000',22,.24,1,[lymOrangeNeg]);
layer(pB,'cd3-positive-orange-events','#ffa000',23,.22,2,[lymOrangeLeft]);
layer(pB,'cd3-positive-events','#ff1493',24,.2,3,[lymPinkHalo,lymPinkCore]);
layer(pB,'cd3-positive-indigo-events','#4b1a8c',25,.24,1,[lymIndigoRight]);

/* ---------- Tube 1 CD3 negative ---------- */
frame(pC);
layer(pC,'non-b-cell-events','#a84a07',31,.3,2,[cd3NegBrownHalo,cd3NegBrownCore]);
layer(pC,'b-cell-events','#008a0c',32,.3,2,[cd3NegGreenHalo,cd3NegGreenCore]);

/* ---------- Tube 1 CD3 positive ---------- */
frame(pD);
layer(pD,'cd8-t-cell-events','#4b0082',41,.33,3,[cd3PosKillerHalo,cd3PosKillerLobe,cd3PosStem,cd3PosDnt,cd3PosKillerCore]);
layer(pD,'cd4-t-cell-events','#4b0082',42,.33,2,[cd3PosHelperHalo,cd3PosHelperCore]);
events(pD,dptArcX,dptArcY,'#6a2a9c',3,'dpt-arc-event');

/* ---------- Tube 2 scatter ---------- */
frame(pE);
layer(pE,'t2-background-events','#000',51,.22,12,[t2DenseBottom,t2DenseUnderLym,t2ErShoulder,t2DenseRightOfGreen,t2LeftOfPurple],[t2SparseWedge,t2MiddleWedge,t2RightWedge,t2LowBand]);
layer(pE,'t2-top-edge-events','#000',52,.1,0,[],[t2TopStrip]);
layer(pE,'t2-right-edge-events','#000',50,.1,0,[],[t2RightStrip]);
whiteGate(pE,t2GatePurple,'gra-gate-fill-tube-2');
whiteGate(pE,t2GateGreen,'mon-gate-fill-tube-2');
whiteGate(pE,t2GateOrange,'er-gate-fill-tube-2');
whiteGate(pE,t2GateBlue,'lym-gate-fill-tube-2');
layer(pE,'gra-events-tube-2','#a800d2',53,.2,0,[t2PurpleCore],[t2GatePurple]);
layer(pE,'mon-events-tube-2','#00c81e',54,.24,0,[t2GreenCore],[t2GateGreen]);
layer(pE,'er-sparse-events-tube-2','#ff6644',55,.26,0,[],[t2ErSparse]);
layer(pE,'er-dense-events-tube-2','#ff6644',60,.26,4,[],[t2OrangeSolid]);
layer(pE,'lym-blue-events-tube-2','#1ba0ea',56,.4,3,[],[t2LymBlue]);
layer(pE,'lym-orange-events-tube-2','#e89a10',57,.4,3,[],[t2LymOrange]);
layer(pE,'lym-teal-events-tube-2','#207a6a',58,.4,3,[],[t2LymTeal]);
layer(pE,'lym-pink-events-tube-2','#ff3a90',59,.4,3,[],[t2LymPink]);
gate(pE,t2GatePurple,'#a800d2',3,'gra-gate-tube-2');
gate(pE,t2GateGreen,'#00c81e',3,'mon-gate-tube-2');
gate(pE,t2GateOrange,'#ff6644',3,'er-gate-tube-2');
gate(pE,t2GateBlue,'#19b5ee',4,'lym-gate-tube-2');
icon(596,2168,2223,'gra-marker-tube-2');
icon(861,2426,2477,'mon-marker-tube-2');
icon(637,2601,2656,'lym-marker-tube-2');
icon(289.5,2620,2674,'er-marker-tube-2');

/* ---------- Tube 2 LYM ---------- */
frame(pF);
layer(pF,'cd4-negative-orange-halo','#ffa000',61,.22,3,[lymCd4OrangeHalo,lymCd4OrangeStem,lymCd4OrangeCore]);
layer(pF,'cd4-negative-purple-events','#4b1a8c',62,.24,3,[lymCd4PurpleStem]);
layer(pF,'double-negative-blue-events','#19b8ec',63,.22,3,[lymCd4BlueLow]);
layer(pF,'double-negative-orange-events','#ffa000',64,.22,3,[lymCd4OrangeLow]);
layer(pF,'t-helper-events','#ff1493',65,.22,3,[lymCd4PinkHalo,lymCd4PinkLow,lymCd4PinkCore]);
layer(pF,'t-helper-orange-events','#ffa000',66,.24,1,[lymCd4PinkOrange]);
events(pF,lrEventsX,lrEventsY,'#ff2bd0',3.5,'lower-right-event');

/* ---------- Tube 2 CD25 / CD127 ---------- */
frame(pG);
layer(pG,'treg-panel-pink-events','#ff1f96',71,.36,2,[tregPink,tregLowPink]);
layer(pG,'treg-panel-orange-events','#f09a10',72,.4,2,[tregOrange]);
layer(pG,'treg-panel-teal-events','#12807c',73,.4,2,[tregTeal]);
layer(pG,'treg-panel-indigo-events','#4b1a8c',74,.4,2,[tregIndigo]);
layer(pG,'treg-cyan-events','#25c8c8',75,.4,2,[tregCyan]);
layer(pG,'treg-blue-events','#1020e0',76,.4,2,[tregBlue]);
layer(pG,'treg-red-events','#9c1c20',77,.4,2,[tregRed]);

/* ---------- Tube 2 CD194 / CD183 ---------- */
frame(pH);
layer(pH,'cd183-positive-orange-events','#f09a10',81,.4,2,[cd183Orange,cd183OrangeCore]);
layer(pH,'cd183-positive-teal-events','#129a96',82,.4,2,[cd183Teal,cd183TealCore]);
layer(pH,'cd183-positive-scatter-events','#7a2a20',83,.4,2,[cd183Scatter]);
layer(pH,'cd183-negative-pink-events','#ff1493',84,.4,2,[cd183Pink,cd183PinkCore]);
layer(pH,'cd183-negative-indigo-events','#4b1a8c',85,.4,2,[cd183Indigo]);
layer(pH,'cd183-negative-blue-events','#1420e0',86,.4,2,[cd183Blue]);
layer(pH,'cd183-negative-teal-events','#0b4a44',87,.4,2,[cd183DarkTeal]);
layer(pH,'cd183-negative-red-events','#8a0a20',88,.4,2,[cd183DarkRed]);

/* ---------- Tube 2 CD183 positive ---------- */
frame(pI);
layer(pI,'th9-orange-events','#ff9412',91,.22,2,[posOrangeTh9,posOrangeCore]);
layer(pI,'th9-teal-events','#1a8a80',92,.22,2,[posTealTh9]);
layer(pI,'ccr4-high-indigo-events','#4b1a8c',93,.22,2,[posIndigoTop]);
layer(pI,'ccr4-high-brown-events','#c8860a',94,.22,2,[posBrownRight]);
layer(pI,'ccr4-high-cyan-events','#10c8c0',95,.22,2,[posCyanRight]);
layer(pI,'ccr6-low-indigo-events','#4b1a8c',96,.22,2,[posIndigoLow]);
layer(pI,'ccr6-low-blue-events','#1420e0',97,.22,2,[posBlueLow]);
layer(pI,'th1-pink-events','#ff1493',98,.22,2,[posPinkHalo,posPinkCore]);
layer(pI,'th1-teal-events','#0b4a44',99,.22,2,[posTealTh1]);

/* ---------- Tube 2 CD183 negative ---------- */
frame(pJ);
layer(pJ,'ccr4-low-pink-events','#ff1493',101,.22,2,[negPinkHalo,negPinkCore,negPinkUpper],[],[-300,440,-300,40000]);
layer(pJ,'th17-indigo-events','#4b1a8c',102,.24,2,[negIndigo]);
layer(pJ,'th17-blue-events','#1420e0',103,.24,2,[negBlue]);
layer(pJ,'th2-events','#0b4a44',104,.24,2,[negTeal]);
</script>
</body>
</html>
